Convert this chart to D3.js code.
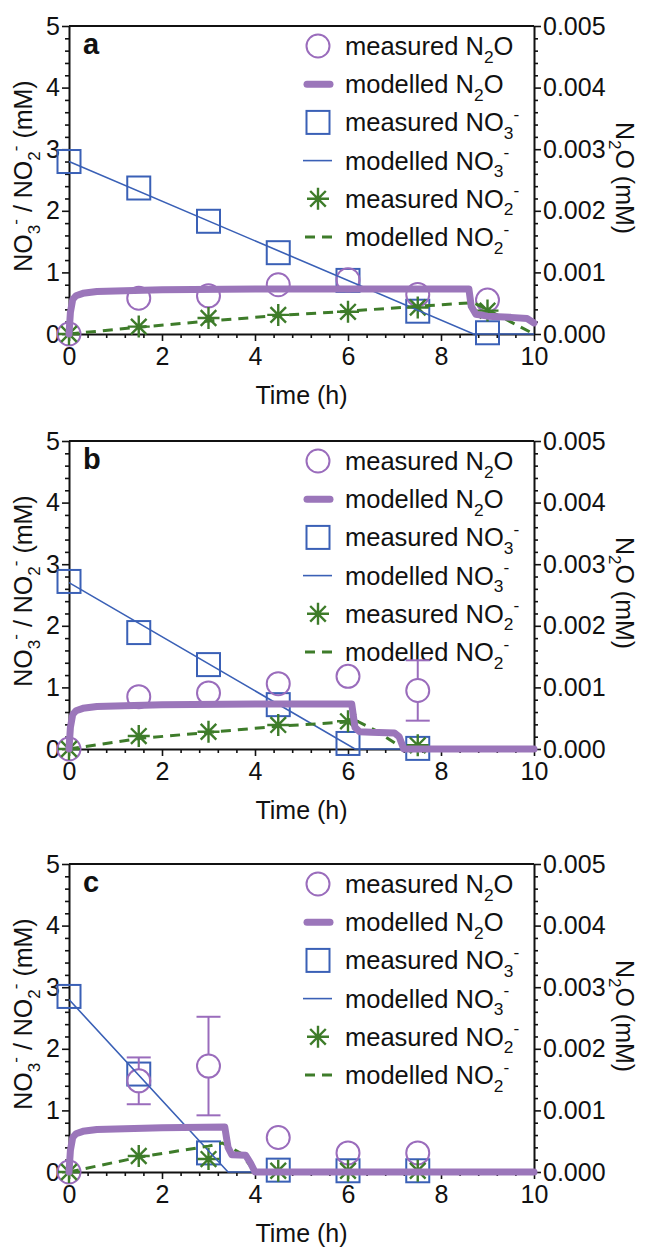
<!DOCTYPE html>
<html>
<head>
<meta charset="utf-8">
<script src="https://cdn.jsdelivr.net/npm/d3@7/dist/d3.min.js"></script>
<style>
  body { margin: 0; background: #fff; }
  text { font-family: "Liberation Sans", Arial, sans-serif; fill: #111; }
</style>
</head>
<body>
<div id="chart"></div>
<script>
// ---- panel a ----
let timeA = [0, 1.5, 3, 4.5, 6, 7.5, 9];
let no3A = [2.8, 2.37, 1.83, 1.32, 0.87, 0.37, 0.02];
let no2A = [0, 0.12, 0.26, 0.31, 0.36, 0.43, 0.38];
let n2oA = [0, 0.00058, 0.00062, 0.0008, 0.00088, 0.00064, 0.00055];
let n2oErrA = [0, 0, 0, 0, 0, 0, 0];
let no3ModTimeA = [0, 8.7, 10];
let no3ModA = [2.8, 0, 0];
let no2ModTimeA = [0, 1.5, 3, 4.5, 6, 7.5, 8.7, 10];
let no2ModA = [0, 0.11, 0.21, 0.3, 0.37, 0.45, 0.51, 0];
let n2oModTimeA = [0, 0.03, 0.08, 0.15, 0.3, 0.6, 1, 2, 4, 8.6, 8.65, 8.75, 9, 9.5, 9.85, 10];
let n2oModA = [0, 0.00035, 0.00056, 0.00062, 0.00066, 0.00069, 0.0007, 0.00072, 0.00073, 0.00073,
               0.00045, 0.00032, 0.00029, 0.00027, 0.00025, 0.00018];

// ---- panel b ----
let timeB = [0, 1.5, 3, 4.5, 6, 7.5];
let no3B = [2.72, 1.89, 1.37, 0.72, 0.09, 0.01];
let no2B = [0, 0.21, 0.28, 0.39, 0.45, 0.06];
let n2oB = [0, 0.00085, 0.00091, 0.00106, 0.00118, 0.00095];
let n2oErrB = [0, 0, 0, 0, 0, 0.00049];
let no3ModTimeB = [0, 6.15, 10];
let no3ModB = [2.7, 0, 0];
let no2ModTimeB = [0, 1.5, 3, 4.5, 6, 6.2, 6.6, 7.0, 7.2, 10];
let no2ModB = [0, 0.17, 0.27, 0.37, 0.44, 0.45, 0.3, 0.1, 0, 0];
let n2oModTimeB = [0, 0.03, 0.08, 0.15, 0.3, 0.6, 1, 2, 4, 6.08, 6.15, 6.25, 6.5, 7.0, 7.1, 7.2, 10];
let n2oModB = [0, 0.00035, 0.00056, 0.00062, 0.00066, 0.00069, 0.0007, 0.00072, 0.00073, 0.00073,
               0.00035, 0.00028, 0.00027, 0.00026, 0.0002, 0, 0];

// ---- panel c ----
let timeC = [0, 1.5, 3, 4.5, 6, 7.5];
let no3C = [2.85, 1.59, 0.31, 0.03, 0.02, 0.02];
let no2C = [0, 0.26, 0.21, 0.02, 0.02, 0.02];
let n2oC = [0, 0.00148, 0.00172, 0.00056, 0.00031, 0.00031];
let n2oErrC = [0, 0.00038, 0.0008, 0, 0, 0];
let no3ModTimeC = [0, 3.42, 10];
let no3ModC = [2.8, 0, 0];
let no2ModTimeC = [0, 1.5, 3, 3.3, 3.7, 4.0, 10];
let no2ModC = [0, 0.24, 0.42, 0.47, 0.3, 0, 0];
let n2oModTimeC = [0, 0.03, 0.08, 0.15, 0.3, 0.6, 1, 2, 3.35, 3.42, 3.5, 3.8, 3.9, 4.0, 10];
let n2oModC = [0, 0.00035, 0.00056, 0.00062, 0.00066, 0.00069, 0.0007, 0.00072, 0.00073,
               0.0004, 0.00028, 0.00027, 0.00015, 0, 0];

// ticks
let xTicks = [0, 2, 4, 6, 8, 10];
let yLeftTicks = [0, 1, 2, 3, 4, 5];
let yRightTicks = [0, 0.001, 0.002, 0.003, 0.004, 0.005];

let width = 646, height = 1252;
let left = 69, right = 534, plotH = 308;
let tops = [26, 441, 864];

let purple = "#9a6cbc", purpleLine = "#9b76ba", blue = "#3a60b6", green = "#3e7c2a";

let panels = [
    {label: "a", time: timeA, no3: no3A, no2: no2A, n2o: n2oA, err: n2oErrA,
     no3Mod: [no3ModTimeA, no3ModA], no2Mod: [no2ModTimeA, no2ModA], n2oMod: [n2oModTimeA, n2oModA]},
    {label: "b", time: timeB, no3: no3B, no2: no2B, n2o: n2oB, err: n2oErrB,
     no3Mod: [no3ModTimeB, no3ModB], no2Mod: [no2ModTimeB, no2ModB], n2oMod: [n2oModTimeB, n2oModB]},
    {label: "c", time: timeC, no3: no3C, no2: no2C, n2o: n2oC, err: n2oErrC,
     no3Mod: [no3ModTimeC, no3ModC], no2Mod: [no2ModTimeC, no2ModC], n2oMod: [n2oModTimeC, n2oModC]}
];

let svg = d3.select("#chart")
    .append("svg")
    .attr("width", width)
    .attr("height", height);

svg.append("rect").attr("width", width).attr("height", height).attr("fill", "#fff");

let xScale = d3.scaleLinear().domain([0, 10]).range([left, right]);

// text with sub/superscripts: parts = [[string, "" | "sub" | "sup"], ...]
let formula = (sel, parts, size) => {
    let shift = 0;
    parts.forEach(([s, kind]) => {
        let target = kind === "sub" ? 0.3 * size : kind === "sup" ? -0.45 * size : 0;
        sel.append("tspan")
            .attr("dy", target - shift)
            .attr("font-size", kind ? size * 0.68 : size)
            .text(s);
        shift = target;
    });
};

let asterisk = "M-11,0H11M0,-11V11M-7.8,-7.8L7.8,7.8M-7.8,7.8L7.8,-7.8";

let minorOf = (max, step, majorStep) => d3.range(0, max + step / 2, step)
    .filter(v => Math.abs(v / majorStep - Math.round(v / majorStep)) > 1e-6);

let legendItems = [
    {kind: "circle", parts: [["measured N", ""], ["2", "sub"], ["O", ""]]},
    {kind: "thick", parts: [["modelled N", ""], ["2", "sub"], ["O", ""]]},
    {kind: "square", parts: [["measured NO", ""], ["3", "sub"], ["-", "sup"]]},
    {kind: "thin", parts: [["modelled NO", ""], ["3", "sub"], ["-", "sup"]]},
    {kind: "star", parts: [["measured NO", ""], ["2", "sub"], ["-", "sup"]]},
    {kind: "dash", parts: [["modelled NO", ""], ["2", "sub"], ["-", "sup"]]}
];

let drawPanel = (p, top) => {
    let y0 = top + plotH;
    let yLeft = d3.scaleLinear().domain([0, 5]).range([y0, top]);
    let yRight = d3.scaleLinear().domain([0, 0.005]).range([y0, top]);
    let g = svg.append("g");

    // axes
    let styleAxis = (a) => {
        a.select(".domain").attr("stroke", "#111").attr("stroke-width", 2);
        a.selectAll(".tick line").attr("stroke", "#111").attr("stroke-width", 1.6);
        a.selectAll("text").attr("font-size", 25).attr("fill", "#111")
            .attr("font-family", "Liberation Sans, Arial, sans-serif");
    };

    g.append("g").attr("transform", "translate(0," + y0 + ")")
        .call(d3.axisBottom(xScale).tickValues(minorOf(10, 0.4, 2)).tickSize(4).tickFormat(""))
        .call(a => a.select(".domain").remove())
        .call(styleAxis);
    g.append("g").attr("transform", "translate(0," + y0 + ")")
        .call(d3.axisBottom(xScale).tickValues(xTicks).tickSize(7).tickSizeOuter(0).tickPadding(6)
            .tickFormat(d3.format("d")))
        .call(styleAxis);

    g.append("g").attr("transform", "translate(" + left + ",0)")
        .call(d3.axisLeft(yLeft).tickValues(minorOf(5, 0.2, 1)).tickSize(4).tickFormat(""))
        .call(a => a.select(".domain").remove())
        .call(styleAxis);
    g.append("g").attr("transform", "translate(" + left + ",0)")
        .call(d3.axisLeft(yLeft).tickValues(yLeftTicks).tickSize(7).tickSizeOuter(0).tickPadding(2)
            .tickFormat(d3.format("d")))
        .call(styleAxis);

    g.append("g").attr("transform", "translate(" + right + ",0)")
        .call(d3.axisRight(yRight).tickValues(minorOf(0.005, 0.0002, 0.001)).tickSize(4).tickFormat(""))
        .call(a => a.select(".domain").remove())
        .call(styleAxis);
    g.append("g").attr("transform", "translate(" + right + ",0)")
        .call(d3.axisRight(yRight).tickValues(yRightTicks).tickSize(7).tickSizeOuter(0).tickPadding(2)
            .tickFormat(d3.format(".3f")))
        .call(styleAxis);

    g.append("line")
        .attr("x1", left).attr("x2", right)
        .attr("y1", top).attr("y2", top)
        .attr("stroke", "#111").attr("stroke-width", 2);

    // axis titles
    g.append("text")
        .attr("x", (left + right) / 2).attr("y", y0 + 70)
        .attr("text-anchor", "middle").attr("font-size", 25)
        .text("Time (h)");

    let lt = g.append("text")
        .attr("transform", "translate(32," + (top + 150) + ") rotate(-90)")
        .attr("text-anchor", "middle");
    formula(lt, [["NO", ""], ["3", "sub"], ["-", "sup"], [" / NO", ""], ["2", "sub"], ["-", "sup"], [" (mM)", ""]], 25);

    let rt = g.append("text")
        .attr("transform", "translate(616," + (top + 152) + ") rotate(90)")
        .attr("text-anchor", "middle");
    formula(rt, [["N", ""], ["2", "sub"], ["O (mM)", ""]], 25);

    // panel letter
    g.append("text")
        .attr("x", 83).attr("y", top + 28)
        .attr("font-size", 29).attr("font-weight", "bold")
        .text(p.label);

    // legend
    let lg = g.append("g");
    legendItems.forEach((item, i) => {
        let cy = top + 20 + i * 38.2;
        let cx = 318;
        if (item.kind === "circle") {
            lg.append("circle").attr("cx", cx).attr("cy", cy).attr("r", 11.5)
                .attr("fill", "none").attr("stroke", purple).attr("stroke-width", 2);
        } else if (item.kind === "thick") {
            lg.append("line").attr("x1", cx - 11).attr("x2", cx + 12).attr("y1", cy).attr("y2", cy)
                .attr("stroke", purpleLine).attr("stroke-width", 7).attr("stroke-linecap", "round");
        } else if (item.kind === "square") {
            lg.append("rect").attr("x", cx - 11.5).attr("y", cy - 11.5).attr("width", 23).attr("height", 23)
                .attr("fill", "none").attr("stroke", blue).attr("stroke-width", 2);
        } else if (item.kind === "thin") {
            lg.append("line").attr("x1", cx - 15).attr("x2", cx + 14).attr("y1", cy).attr("y2", cy)
                .attr("stroke", blue).attr("stroke-width", 1.6);
        } else if (item.kind === "star") {
            lg.append("path").attr("d", asterisk).attr("transform", "translate(" + cx + "," + cy + ")")
                .attr("fill", "none").attr("stroke", green).attr("stroke-width", 2.4);
        } else {
            lg.append("line").attr("x1", cx - 13).attr("x2", cx + 15).attr("y1", cy).attr("y2", cy)
                .attr("stroke", green).attr("stroke-width", 3).attr("stroke-dasharray", "10,7");
        }
        let t = lg.append("text").attr("x", 345).attr("y", cy + 9);
        formula(t, item.parts, 25.5);
    });

    // measured NO3- squares
    g.append("g").selectAll("rect")
        .data(p.time.map((t, i) => [t, p.no3[i]]))
        .enter().append("rect")
        .attr("x", d => xScale(d[0]) - 11.5)
        .attr("y", d => yLeft(d[1]) - 11.5)
        .attr("width", 23).attr("height", 23)
        .attr("fill", "none").attr("stroke", blue).attr("stroke-width", 2);

    // measured N2O circles with error bars
    let n2oPts = p.time.map((t, i) => [t, p.n2o[i], p.err[i]]);
    g.append("g").selectAll("circle")
        .data(n2oPts)
        .enter().append("circle")
        .attr("cx", d => xScale(d[0]))
        .attr("cy", d => yRight(d[1]))
        .attr("r", 11.5)
        .attr("fill", "none").attr("stroke", purple).attr("stroke-width", 2);

    let eb = g.append("g").attr("stroke", purple).attr("stroke-width", 2);
    n2oPts.filter(d => d[2] > 0).forEach(d => {
        let x = xScale(d[0]), cy = yRight(d[1]);
        let yHi = yRight(d[1] + d[2]), yLo = yRight(d[1] - d[2]);
        eb.append("line").attr("x1", x).attr("x2", x).attr("y1", yHi).attr("y2", cy - 11.5);
        eb.append("line").attr("x1", x).attr("x2", x).attr("y1", cy + 11.5).attr("y2", yLo);
        eb.append("line").attr("x1", x - 12).attr("x2", x + 12).attr("y1", yHi).attr("y2", yHi);
        eb.append("line").attr("x1", x - 12).attr("x2", x + 12).attr("y1", yLo).attr("y2", yLo);
    });

    // measured NO2- asterisks
    g.append("g").selectAll("path")
        .data(p.time.map((t, i) => [t, p.no2[i]]))
        .enter().append("path")
        .attr("d", asterisk)
        .attr("transform", d => "translate(" + xScale(d[0]) + "," + yLeft(d[1]) + ")")
        .attr("fill", "none").attr("stroke", green).attr("stroke-width", 2.4);

    // modelled lines
    let zip = (s) => s[0].map((t, i) => [t, s[1][i]]);
    let lineLeft = d3.line().x(d => xScale(d[0])).y(d => yLeft(d[1]));
    let lineRight = d3.line().x(d => xScale(d[0])).y(d => yRight(d[1]));

    g.append("path")
        .datum(zip(p.no3Mod))
        .attr("d", lineLeft)
        .attr("fill", "none").attr("stroke", blue).attr("stroke-width", 1.6);

    g.append("path")
        .datum(zip(p.no2Mod))
        .attr("d", lineLeft)
        .attr("fill", "none").attr("stroke", green).attr("stroke-width", 3)
        .attr("stroke-dasharray", "10,7");

    g.append("path")
        .datum(zip(p.n2oMod))
        .attr("d", lineRight)
        .attr("fill", "none").attr("stroke", purpleLine).attr("stroke-width", 7)
        .attr("stroke-linejoin", "round").attr("stroke-linecap", "round");
};

panels.forEach((p, i) => drawPanel(p, tops[i]));
</script>
</body>
</html>
